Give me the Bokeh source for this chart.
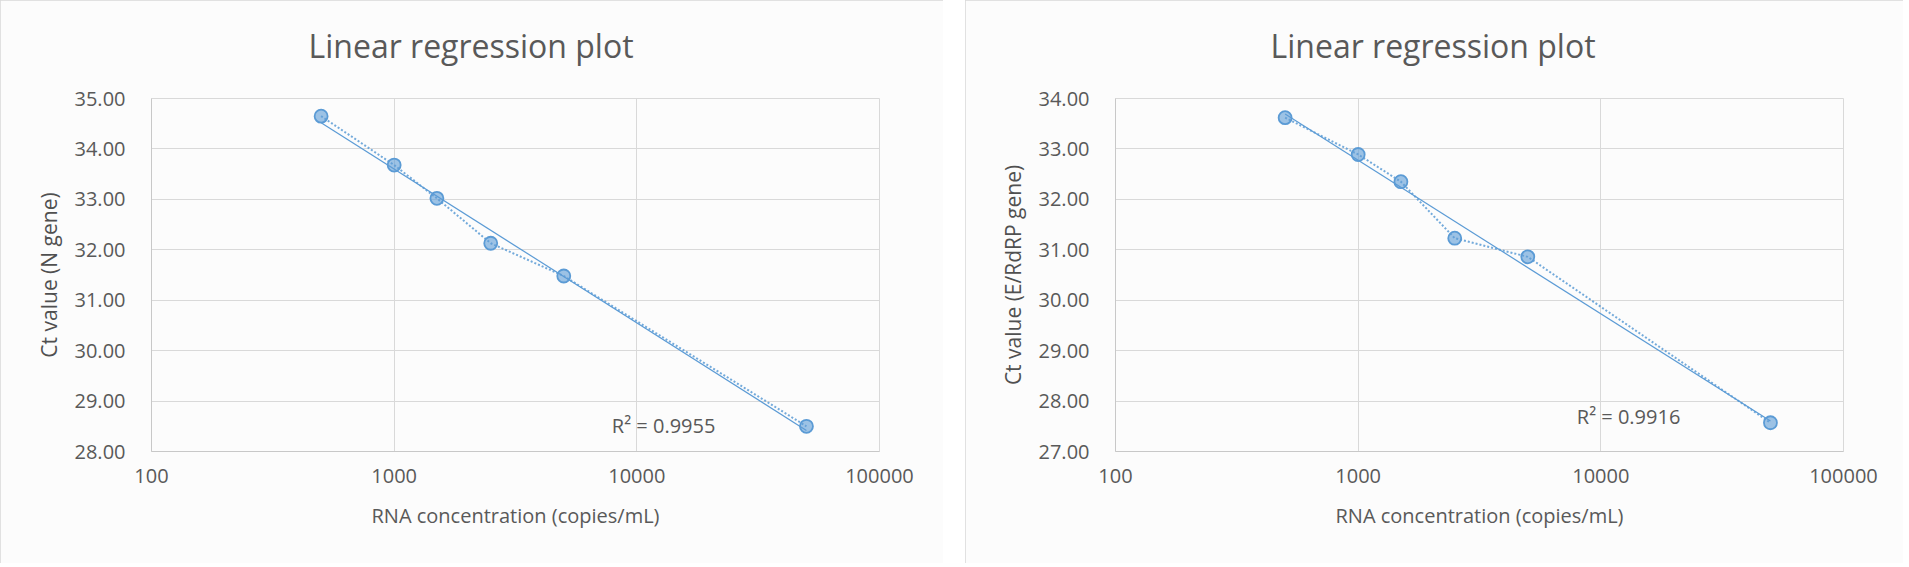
import numpy as np
from bokeh.plotting import figure
from bokeh.layouts import row
from bokeh.models import Range1d, FixedTicker, Label, PrintfTickFormatter, ColumnDataSource, Title
from bokeh.embed import file_html
from bokeh.resources import INLINE

# ---------------- data ----------------
concentration = [500, 1000, 1500, 2500, 5000, 50000]
ct_n_gene = [34.65, 33.68, 33.02, 32.13, 31.48, 28.50]
ct_e_rdrp_gene = [33.62, 32.89, 32.35, 31.23, 30.86, 27.57]

x_ticks = [100, 1000, 10000, 100000]
x_tick_labels = ["100", "1000", "10000", "100000"]
y_ticks_n = [28, 29, 30, 31, 32, 33, 34, 35]
y_ticks_e = [27, 28, 29, 30, 31, 32, 33, 34]

chart_title = "Linear regression plot"
x_label = "RNA concentration (copies/mL)"
y_label_n = "Ct value (N gene)"
y_label_e = "Ct value (E/RdRP gene)"
r2_text_n = "R² = 0.9955"
r2_text_e = "R² = 0.9916"

FONT = "Open Sans"
TXT = "#595959"
BLUE = "#5b9bd5"
BG = "#fcfcfc"


def make_chart(ys, y_ticks, y_label, r2_text, r2_pos, width, mb_left, title_offset):
    mb_right = width - mb_left - 728
    p = figure(width=width, height=563, x_axis_type="log",
               x_range=Range1d(x_ticks[0], x_ticks[-1]),
               y_range=Range1d(y_ticks[0], y_ticks[-1]),
               output_backend="svg", toolbar_location=None,
               min_border_left=mb_left, min_border_right=mb_right,
               min_border_top=98, min_border_bottom=112,
               background_fill_color=BG, border_fill_color=BG,
               styles={"outline": "2px solid #d9d9d9", "outline-offset": "-2px"})
    p.title.text = chart_title
    p.title.text_font = FONT
    p.title.text_font_size = "32px"
    p.title.text_font_style = "normal"
    p.title.text_color = TXT
    p.title.align = "left"
    p.title.offset = title_offset
    p.title.standoff = 36
    # empty spacer between the title and the plot area
    p.add_layout(Title(text=" ", text_font_size="1px", standoff=11), "above")

    p.outline_line_color = "#d9d9d9"

    # axes
    p.xaxis.ticker = FixedTicker(ticks=x_ticks)
    p.xaxis.major_label_overrides = {t: l for t, l in zip(x_ticks, x_tick_labels)}
    p.yaxis.ticker = FixedTicker(ticks=y_ticks)
    p.yaxis.formatter = PrintfTickFormatter(format="%.2f")
    for ax in (p.xaxis[0], p.yaxis[0]):
        ax.major_tick_in = 0
        ax.major_tick_out = 0
        ax.minor_tick_in = 0
        ax.minor_tick_out = 0
        ax.axis_line_color = "#c8c8c8"
        ax.major_label_text_font = FONT
        ax.major_label_text_font_size = "20px"
        ax.major_label_text_color = TXT
        ax.axis_label_text_font = FONT
        ax.axis_label_text_font_style = "normal"
        ax.axis_label_text_color = TXT
    p.xaxis.axis_label = x_label
    p.xaxis.axis_label_text_font_size = "20px"
    p.xaxis.major_label_standoff = 17
    p.xaxis.axis_label_standoff = 16
    p.yaxis.axis_label = y_label
    p.yaxis.axis_label_text_font_size = "21px"
    p.yaxis.axis_label_text_color = "#505050"
    p.yaxis.major_label_standoff = 26
    p.yaxis.axis_label_standoff = 9

    p.xgrid.grid_line_color = "#d9d9d9"
    p.ygrid.grid_line_color = "#d9d9d9"
    p.xgrid.minor_grid_line_color = None

    src = ColumnDataSource(dict(x=concentration, y=ys))
    # trendline (logarithmic fit computed from data)
    coef = np.polyfit(np.log10(concentration), ys, 1)
    xf = [min(concentration), max(concentration)]
    yf = [coef[0] * np.log10(v) + coef[1] for v in xf]
    p.line(xf, yf, line_color=BLUE, line_width=1.2)
    p.line("x", "y", source=src, line_color=BLUE, line_width=2,
           line_dash="2 2", line_alpha=0.85)
    p.scatter("x", "y", source=src, size=13, fill_color=BLUE, fill_alpha=0.6,
              line_color=BLUE, line_width=1.8)

    p.add_layout(Label(x=r2_pos[0], y=r2_pos[1], text=r2_text,
                       text_font=FONT, text_font_size="20px", text_color=TXT,
                       text_baseline="middle", text_align="left"))
    return p


left = make_chart(ct_n_gene, y_ticks_n, y_label_n, r2_text_n, (7890, 28.51),
                  943, 151, 157)
right = make_chart(ct_e_rdrp_gene, y_ticks_e, y_label_e, r2_text_e, (7960, 27.70),
                   938, 150, 155)

layout = row(left, right, spacing=22)
open("out.html", "w").write(file_html(layout, INLINE))
